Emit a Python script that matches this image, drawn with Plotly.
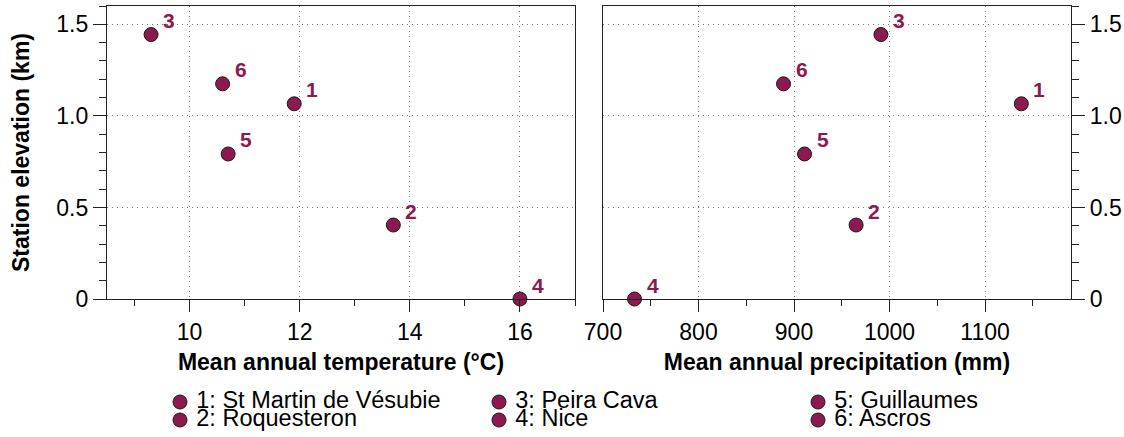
import plotly.graph_objects as go

# station data
station_ids = [1, 2, 3, 4, 5, 6]
stations = ["St Martin de Vésubie", "Roquesteron", "Peira Cava", "Nice", "Guillaumes", "Ascros"]
temperature = [11.9, 13.7, 9.3, 16.0, 10.7, 10.6]      # °C
precipitation = [1138, 965, 991, 733, 911, 889]        # mm
elevation = [1.066, 0.404, 1.444, 0.0, 0.792, 1.175]   # km

y_tickvals = [0, 0.5, 1.0, 1.5]
y_ticktext = ["0", "0.5", "1.0", "1.5"]

PURPLE = "#8c1a50"
LINE = "#222222"
GRID = "#777777"
FONT = "Liberation Sans, Arial, sans-serif"

W, H = 1124, 437
ML, MR, MT, MB = 107, 53, 6, 0
plot_w = W - ML - MR
plot_h = H - MT - MB
main_bottom = (H - 299) / plot_h

fig = go.Figure()

marker = dict(size=14, color=PURPLE, line=dict(color="#1a1a1a", width=1))

for xs, xa, ya in [(temperature, "x", "y"), (precipitation, "x2", "y2")]:
    fig.add_trace(go.Scatter(
        x=xs, y=elevation, xaxis=xa, yaxis=ya,
        mode="markers", marker=marker, cliponaxis=False,
        showlegend=False, text=stations, hoverinfo="text+x+y",
    ))
    for sid, xv, yv in zip(station_ids, xs, elevation):
        fig.add_annotation(
            x=xv, y=yv, xref=xa, yref=ya, text=f"<b>{sid}</b>",
            showarrow=False, xshift=18, yshift=14,
            font=dict(family=FONT, size=21, color=PURPLE),
        )

# legend drawn as a small grid of markers, 3 columns x 2 rows
leg_col = [i // 2 for i in range(len(stations))]
leg_row = [i % 2 for i in range(len(stations))]
fig.add_trace(go.Scatter(
    x=leg_col, y=leg_row, xaxis="x3", yaxis="y3",
    mode="markers+text", marker=marker, cliponaxis=False,
    text=[f"\u00a0{i}: {s}" for i, s in zip(station_ids, stations)],
    textposition="middle right",
    textfont=dict(family=FONT, size=23.5, color="#000000"),
    showlegend=False, hoverinfo="skip",
))

axis_common = dict(
    showline=True, linecolor=LINE, linewidth=1.3, mirror=True,
    ticks="outside", tickcolor=LINE, tickwidth=1.3,
    showgrid=True, gridcolor=GRID, griddash="1px,4px", gridwidth=1,
    zeroline=False, automargin=False,
    tickfont=dict(family=FONT, size=23, color="#000000"),
)
title_font = dict(family=FONT, size=23, color="#000000")

fig.update_layout(
    width=W, height=H,
    margin=dict(l=ML, r=MR, t=MT, b=MB),
    paper_bgcolor="white", plot_bgcolor="white",
    font=dict(family=FONT, color="#000000"),
    xaxis=dict(
        axis_common, domain=[0, (575 - ML) / plot_w], anchor="y",
        range=[8.5, 17.0], tick0=0, dtick=2, ticklen=12,
        minor=dict(dtick=1, tick0=0, ticklen=6, ticks="outside", tickcolor=LINE, showgrid=False),
        title=dict(text="<b>Mean annual temperature (°C)</b>", standoff=10, font=title_font),
    ),
    xaxis2=dict(
        axis_common, domain=[(603 - ML) / plot_w, 1], anchor="y2",
        range=[700, 1190], tick0=0, dtick=100, ticklen=12,
        minor=dict(dtick=50, tick0=0, ticklen=6, ticks="outside", tickcolor=LINE, showgrid=False),
        title=dict(text="<b>Mean annual precipitation (mm)</b>", standoff=10, font=title_font),
    ),
    yaxis=dict(
        axis_common, domain=[main_bottom, 1], anchor="x",
        range=[0, 1.6], tickvals=y_tickvals, ticktext=y_ticktext, ticklen=13,
        minor=dict(dtick=0.1, tick0=0, ticklen=7, ticks="outside", tickcolor=LINE, showgrid=False),
        title=dict(text="<b>Station elevation (km)</b>", standoff=20, font=title_font),
    ),
    yaxis2=dict(
        axis_common, domain=[main_bottom, 1], anchor="x2", side="right",
        matches="y", range=[0, 1.6], tickvals=y_tickvals, ticktext=y_ticktext, ticklen=13,
        minor=dict(dtick=0.1, tick0=0, ticklen=7, ticks="outside", tickcolor=LINE, showgrid=False),
    ),
    xaxis3=dict(domain=[0, 1], anchor="y3", range=[-(180 - ML) / 319, 2 + (W - MR - 818) / 319],
                visible=False, fixedrange=True),
    yaxis3=dict(domain=[0, 57 / plot_h], anchor="x3", range=[35 / 18, -22 / 18],
                visible=False, fixedrange=True),
)

# drop the default page margin so the figure fills the window exactly
fig.write_html("out.html", config={"displayModeBar": False},
               post_script="document.body.style.margin='0';")
